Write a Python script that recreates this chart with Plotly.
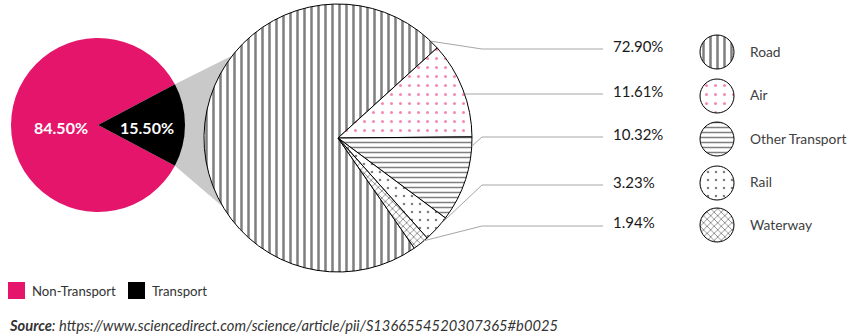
import math
import plotly.graph_objects as go

W, H = 851, 335

# ---------------- data ----------------
share_labels = ["Non-Transport", "Transport"]
share_values = [84.50, 15.50]
share_colors = ["#E5156B", "#000000"]

mode_labels = ["Road", "Air", "Other Transport", "Rail", "Waterway"]
mode_values = [72.90, 11.61, 10.32, 3.23, 1.94]

source_label = "Source"
source_url = "https://www.sciencedirect.com/science/article/pii/S1366554520307365#b0025"

# ---------------- styles ----------------
PINK = share_colors[0]
FONT = "Lato"
mode_patterns = {
    "Road": dict(shape="|", size=7, solidity=0.36, fgcolor="#000000"),
    "Air": dict(shape=".", size=9, solidity=0.09, fgcolor=PINK),
    "Other Transport": dict(shape="-", size=5, solidity=0.3, fgcolor="#000000"),
    "Rail": dict(shape=".", size=8, solidity=0.08, fgcolor="#000000"),
    "Waterway": dict(shape="x", size=5, solidity=0.3, fgcolor="#000000"),
}

# layout geometry (pixels)
cx1, cy1, r1 = 98, 125, 87       # small pie
cx2, cy2, r2 = 338, 138, 134     # large pie
small_center_compass = 96.5      # where the small slices of the large pie are centred
pct_y = [46, 91, 134, 182, 222]
line_y = [49, 94, 137, 185, 226]
leg_y = [52, 96, 139, 183, 225]
line_end_x = 603
knee_x = 482
pct_x = 611
leg_cx, leg_r = 717, 17
leg_text_x = 748


def px(x):
    return x / W


def py(y):
    return 1 - y / H


def pt(cx, cy, r, compass):
    a = math.radians(compass)
    return cx + r * math.sin(a), cy - r * math.cos(a)


def domain(cx, cy, r):
    return dict(x=[px(cx - r), px(cx + r)], y=[py(cy + r), py(cy - r)])


fig = go.Figure()

# ---------------- small pie ----------------
tot1 = sum(share_values)
rot1 = 90 - 360 * (share_values[0] + share_values[1] / 2) / tot1
fig.add_trace(go.Pie(
    labels=share_labels, values=share_values, sort=False, direction="clockwise",
    rotation=rot1, marker=dict(colors=share_colors, line=dict(width=0)),
    textinfo="none", hoverinfo="label+value", showlegend=False,
    domain=domain(cx1, cy1, r1),
))

# ---------------- big pie ----------------
tot2 = sum(mode_values)
small_span = 360 * sum(mode_values[1:]) / tot2
air_start = small_center_compass - small_span / 2
rot2 = air_start - 360 * mode_values[0] / tot2
fig.add_trace(go.Pie(
    labels=mode_labels, values=mode_values, sort=False, direction="clockwise",
    rotation=rot2,
    marker=dict(colors=["#FFFFFF"] * len(mode_labels),
                line=dict(color="#000000", width=1),
                pattern=dict(shape=[mode_patterns[m]["shape"] for m in mode_labels],
                             size=[mode_patterns[m]["size"] for m in mode_labels],
                             solidity=[mode_patterns[m]["solidity"] for m in mode_labels],
                             fgcolor=[mode_patterns[m]["fgcolor"] for m in mode_labels],
                             bgcolor="#FFFFFF", fillmode="overlay")),
    textinfo="none", hoverinfo="label+value", showlegend=False,
    domain=domain(cx2, cy2, r2),
))

# ---------------- legend circles ----------------
for m, y in zip(mode_labels, leg_y):
    p = mode_patterns[m]
    fig.add_trace(go.Pie(
        labels=[m], values=[1], sort=False,
        marker=dict(colors=["#FFFFFF"], line=dict(color="#000000", width=1),
                    pattern=dict(shape=[p["shape"]], size=[p["size"]],
                                 solidity=[p["solidity"]], fgcolor=[p["fgcolor"]],
                                 bgcolor="#FFFFFF", fillmode="overlay")),
        textinfo="none", hoverinfo="skip", showlegend=False,
        domain=domain(leg_cx, y, leg_r),
    ))

shapes = []
annotations = []

# connector between pies
half = 180 * share_values[1] / tot1
p1 = pt(cx1, cy1, r1, 90 - half)
p2 = pt(cx1, cy1, r1, 90 + half)
q1 = pt(cx2, cy2, r2 - 2, 310)
q2 = pt(cx2, cy2, r2 - 2, 236)
path = "M {} {} L {} {} L {} {} L {} {} Z".format(
    px(p1[0]), py(p1[1]), px(q1[0]), py(q1[1]), px(q2[0]), py(q2[1]), px(p2[0]), py(p2[1]))
shapes.append(dict(type="path", xref="paper", yref="paper", path=path,
                   fillcolor="#C9C9C9", line=dict(width=0), layer="below"))

# small pie labels
acc = 0
for v, frac in zip(share_values, [0.43, 0.56]):
    mid = rot1 + 360 * (acc + v / 2) / tot1
    acc += v
    x, _ = pt(cx1, cy1, r1 * frac, mid)
    annotations.append(dict(x=px(x), y=py(cy1 + 2), xref="paper", yref="paper",
                            text="<b>{:.2f}%</b>".format(v), showarrow=False,
                            xanchor="center", yanchor="middle",
                            font=dict(family=FONT, size=16, color="#FFFFFF")))

# leader lines + percentage labels
acc = 0
for m, v, ly, ty in zip(mode_labels, mode_values, line_y, pct_y):
    s = rot2 + 360 * acc / tot2
    e = s + 360 * v / tot2
    acc += v
    d = min(4, (e - s) / 4)
    target = 90 - math.degrees(math.asin(max(-1, min(1, (cy2 - ly) / r2))))
    ang = min(max(target, s + d), e - d)
    ax, ay = pt(cx2, cy2, r2, ang)
    path = "M {} {} L {} {} L {} {}".format(px(ax), py(ay), px(knee_x), py(ly),
                                           px(line_end_x), py(ly))
    shapes.append(dict(type="path", xref="paper", yref="paper", path=path,
                       line=dict(color="#A6A6A6", width=1), layer="above"))
    annotations.append(dict(x=px(pct_x), y=py(ty), xref="paper", yref="paper",
                            text="{:.2f}%".format(v), showarrow=False,
                            xanchor="left", yanchor="middle",
                            font=dict(family=FONT, size=15, color="#1A1A1A")))

# right legend text
for m, y in zip(mode_labels, leg_y):
    annotations.append(dict(x=px(leg_text_x), y=py(y - 1), xref="paper", yref="paper",
                            text=m, showarrow=False, xanchor="left", yanchor="middle",
                            font=dict(family=FONT, size=13.8, color="#404040")))

# bottom legend
for lab, col, x0 in zip(share_labels, share_colors, [8, 128]):
    shapes.append(dict(type="rect", xref="paper", yref="paper",
                       x0=px(x0), x1=px(x0 + 17), y0=py(299), y1=py(282),
                       fillcolor=col, line=dict(width=0)))
    annotations.append(dict(x=px(x0 + 22), y=py(291), xref="paper", yref="paper",
                            text=lab, showarrow=False, xanchor="left", yanchor="middle",
                            font=dict(family=FONT, size=13.2, color="#333333")))

# source
annotations.append(dict(x=px(7), y=py(325), xref="paper", yref="paper",
                        text="<b><i>{}</i></b><i>: {}</i>".format(source_label, source_url),
                        showarrow=False, xanchor="left", yanchor="middle",
                        font=dict(family=FONT, size=14.7, color="#333333")))

fig.update_layout(
    width=W, height=H, autosize=False,
    margin=dict(l=0, r=0, t=0, b=0),
    paper_bgcolor="#FFFFFF", plot_bgcolor="#FFFFFF",
    shapes=shapes, annotations=annotations, showlegend=False,
)

fig.write_html("out.html")
